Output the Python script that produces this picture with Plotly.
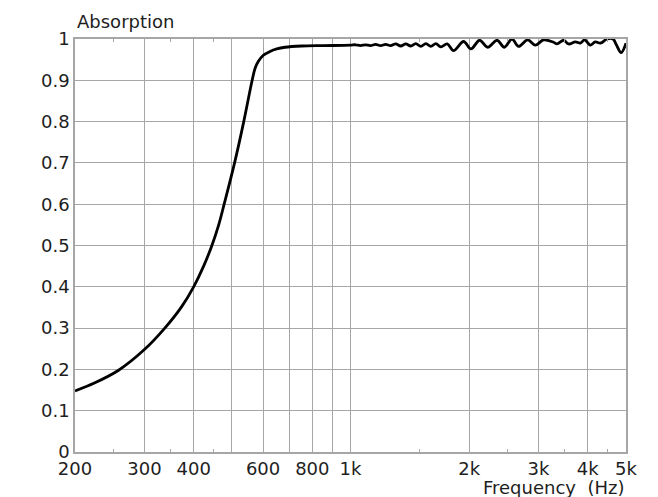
import math
import plotly.graph_objects as go

# Frequency (Hz) and absorption coefficient
freq = [200, 224, 258, 300, 338, 373, 400, 424, 445, 463, 478, 508, 536,
        563, 573, 584, 600, 625, 650, 682, 752, 850,
        1000, 1030, 1060, 1092, 1124, 1158, 1192, 1228, 1264, 1302, 1341, 1381, 1422,
        1464, 1508, 1553, 1599, 1646, 1695, 1760, 1826, 1936, 2021, 2126, 2228, 2354,
        2456, 2569, 2670, 2814, 2944, 3090, 3276, 3342, 3472, 3576, 3719, 3830, 3927,
        4058, 4180, 4305, 4477, 4636, 4726, 4859, 5000]
absorption = [0.148, 0.167, 0.198, 0.248, 0.300, 0.352, 0.400, 0.450, 0.500, 0.550,
              0.600, 0.700, 0.800,
              0.900, 0.930, 0.946, 0.960, 0.970, 0.976, 0.980, 0.983, 0.984,
              0.985, 0.986, 0.984, 0.986, 0.984, 0.987, 0.984, 0.987, 0.984, 0.988,
              0.983, 0.988, 0.983, 0.989, 0.982, 0.989, 0.982, 0.989, 0.981, 0.988,
              0.972, 0.994, 0.976, 0.997, 0.980, 0.997, 0.980, 1.000, 0.982, 0.998,
              0.985, 0.998, 0.992, 0.988, 0.997, 0.988, 0.993, 0.990, 0.998, 0.985,
              0.993, 0.990, 1.000, 1.000, 0.986, 0.967, 0.990]

x_grid = [200, 300, 400, 500, 600, 700, 800, 900, 1000, 2000, 3000, 4000, 5000]
x_labels = ["200", "300", "400", "", "600", "", "800", "", "1k", "2k", "3k", "4k", "5k"]
x_minor = [250, 350, 450, 1500, 2500, 3500, 4500]
y_ticks = [0, 0.1, 0.2, 0.3, 0.4, 0.5, 0.6, 0.7, 0.8, 0.9, 1.0]
y_labels = ["0", "0.1", "0.2", "0.3", "0.4", "0.5", "0.6", "0.7", "0.8", "0.9", "1"]

xr = [math.log10(200), math.log10(5000)]
grid_c = "#a6a6a6"
font = dict(family="DejaVu Sans, Verdana, sans-serif", size=18, color="#1e1e1e")

fig = go.Figure()
fig.add_trace(go.Scatter(x=freq, y=absorption, mode="lines",
                         line=dict(color="black", width=2.8, shape="spline", smoothing=1.0),
                         showlegend=False, hoverinfo="skip"))
fig.add_trace(go.Scatter(x=[200, 5000], y=[0, 0], xaxis="x2", mode="lines",
                         line=dict(width=0), showlegend=False, hoverinfo="skip"))

fig.update_layout(
    width=658, height=497,
    margin=dict(l=75, r=32, t=39, b=45),
    paper_bgcolor="white", plot_bgcolor="white",
    font=font,
    xaxis=dict(type="log", range=xr, tickmode="array", tickvals=x_grid, ticktext=x_labels,
               showgrid=True, gridcolor=grid_c, gridwidth=1,
               showline=True, linecolor=grid_c, linewidth=1.5, mirror=True,
               ticks="", zeroline=False,
               minor=dict(tickmode="array", tickvals=x_minor, ticks="inside",
                          ticklen=3, tickcolor=grid_c, showgrid=False),
               tickfont=font),
    xaxis2=dict(type="log", range=xr, overlaying="x", side="top", tickmode="array",
                tickvals=x_minor, ticks="inside", ticklen=3, tickcolor=grid_c,
                showticklabels=False, showgrid=False, showline=False, zeroline=False),
    yaxis=dict(range=[0, 1], tickmode="array", tickvals=y_ticks, ticktext=y_labels,
               showgrid=True, gridcolor=grid_c, gridwidth=1,
               showline=True, linecolor=grid_c, linewidth=1.5, mirror=True,
               ticks="", zeroline=False, tickfont=font, ticklabelstandoff=0),
    annotations=[
        dict(text="Absorption", xref="paper", yref="paper", x=0, y=1,
             xanchor="left", yanchor="bottom", yshift=5, showarrow=False, font=font),
        dict(text="Frequency  (Hz)", xref="paper", yref="paper", x=1, y=0,
             xanchor="right", yanchor="top", yshift=-23, showarrow=False, font=font),
    ],
)

fig.write_html("out.html", config={"displayModeBar": False},
               post_script="document.body.style.margin='0';document.body.style.overflow='hidden';")
